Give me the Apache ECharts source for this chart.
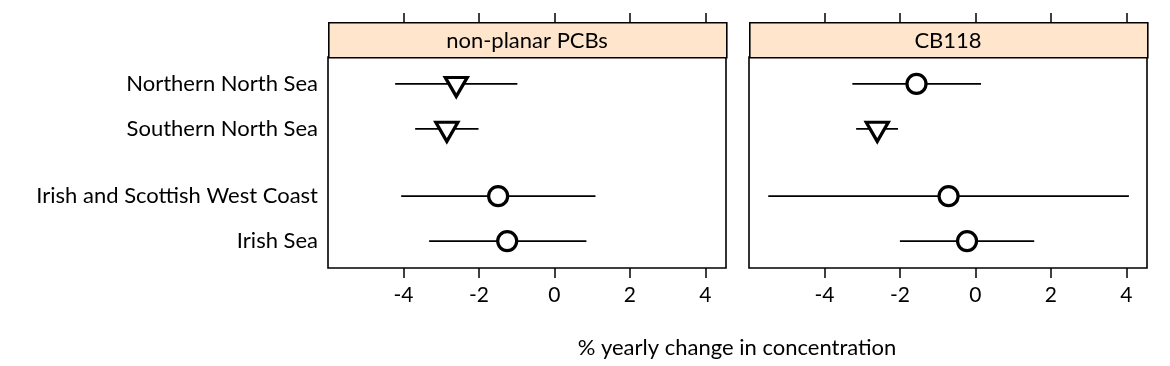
<!DOCTYPE html>
<html>
<head>
<meta charset="utf-8">
<script src="https://cdn.jsdelivr.net/npm/echarts@6/dist/echarts.min.js"></script>
<style>
  html, body { margin: 0; padding: 0; background: #fff; }
  #main { width: 1170px; height: 366px; }
</style>
</head>
<body>
<div id="main"></div>
<script>
// regions, top to bottom
var regions = ["Northern North Sea", "Southern North Sea", "Irish and Scottish West Coast", "Irish Sea"];
var rowPos = [3.5, 2.5, 1, 0];
var panels = ["non-planar PCBs", "CB118"];

// estimate, lower, upper (% per year)
var pcbEst = [-2.6, -2.85, -1.49, -1.25];
var pcbLow = [-4.22, -3.69, -4.06, -3.32];
var pcbHigh = [-0.98, -2.01, 1.09, 0.85];
var pcbSig = [true, true, false, false];

var cbEst = [-1.56, -2.6, -0.71, -0.22];
var cbLow = [-3.26, -3.16, -5.49, -2.0];
var cbHigh = [0.15, -2.05, 4.07, 1.56];
var cbSig = [false, true, false, false];

var xTicks = [-4, -2, 0, 2, 4];

var FONT = "Lato";
var triPath = "path://M0,0 L22,0 L11,20 Z";

function barData(low, high){
  return rowPos.map(function(p, i){ return [p, low[i], high[i]]; });
}
function pointData(est, sig){
  return rowPos.map(function(p, i){
    var item = { value: [est[i], p] };
    if(sig[i]){
      item.symbol = triPath;
      item.symbolSize = [22, 19];
      item.symbolOffset = [0, 3];
    }
    return item;
  });
}

function renderBar(params, api){
  var a = api.coord([api.value(1), api.value(0)]);
  var b = api.coord([api.value(2), api.value(0)]);
  return {
    type: 'line',
    shape: { x1: a[0], y1: a[1], x2: b[0], y2: b[1] },
    style: { stroke: '#000', lineWidth: 1.7 }
  };
}

var grids = [
  { left: 328, top: 57, width: 398, height: 211 },
  { left: 749, top: 57, width: 398, height: 211 }
];

var xAxes = [];
var yAxes = [];
grids.forEach(function(g, gi){
  g.show = true;
  g.borderColor = '#000';
  g.borderWidth = 1.6;
  g.backgroundColor = 'transparent';
  // bottom axis with labels
  xAxes.push({
    type: 'value', gridIndex: gi, min: -6, max: 4.55, position: 'bottom',
    axisLine: { show: false, onZero: false },
    axisTick: { show: true, length: 10, customValues: xTicks, lineStyle: { color: '#000', width: 1.5 } },
    axisLabel: { show: true, customValues: xTicks, margin: 17, color: '#000', fontSize: 21, fontFamily: FONT },
    splitLine: { show: false }
  });
  // top ticks above the strip
  xAxes.push({
    type: 'value', gridIndex: gi, min: -6, max: 4.55, position: 'top', offset: 35,
    axisLine: { show: false, onZero: false },
    axisTick: { show: true, length: 9, customValues: xTicks, lineStyle: { color: '#000', width: 1.5 } },
    axisLabel: { show: false },
    splitLine: { show: false }
  });
  yAxes.push({
    type: 'value', gridIndex: gi, min: -0.6, max: 4.1,
    axisLine: { show: false, onZero: false },
    axisTick: { show: false },
    splitLine: { show: false },
    axisLabel: {
      show: gi === 0, customValues: rowPos, margin: 10, color: '#000', fontSize: 22, fontFamily: FONT,
      formatter: function(v){
        var i = rowPos.indexOf(v);
        return i >= 0 ? regions[i] : '';
      }
    }
  });
});

var pointStyle = { color: '#fff', borderColor: '#000', borderWidth: 3.2, opacity: 1 };

var series = [
  { type: 'custom', xAxisIndex: 0, yAxisIndex: 0, renderItem: renderBar, encode: { x: [1, 2], y: 0 }, data: barData(pcbLow, pcbHigh), z: 2 },
  { type: 'scatter', xAxisIndex: 0, yAxisIndex: 0, symbol: 'circle', symbolSize: 19, itemStyle: pointStyle, data: pointData(pcbEst, pcbSig), z: 3 },
  { type: 'custom', xAxisIndex: 2, yAxisIndex: 1, renderItem: renderBar, encode: { x: [1, 2], y: 0 }, data: barData(cbLow, cbHigh), z: 2 },
  { type: 'scatter', xAxisIndex: 2, yAxisIndex: 1, symbol: 'circle', symbolSize: 19, itemStyle: pointStyle, data: pointData(cbEst, cbSig), z: 3 }
];

// strips with panel names
var graphics = [];
grids.forEach(function(g, gi){
  graphics.push({
    type: 'rect', left: g.left, top: 22,
    shape: { width: g.width, height: 35 },
    style: { fill: '#ffe5cc', stroke: '#000', lineWidth: 1.6 }, z: 10
  });
  graphics.push({
    type: 'text', x: g.left + g.width / 2, y: 41,
    style: { text: panels[gi], fill: '#000', font: '22px ' + FONT, textAlign: 'center', textVerticalAlign: 'middle' }, z: 11
  });
});
graphics.push({
  type: 'text', x: 737, y: 348,
  style: { text: '% yearly change in concentration', fill: '#000', font: '22px ' + FONT, textAlign: 'center', textVerticalAlign: 'middle' }
});

var myChart = echarts.init(document.getElementById('main'), null, { renderer: 'canvas' });
myChart.setOption({
  animation: false,
  backgroundColor: '#fff',
  grid: grids,
  xAxis: xAxes,
  yAxis: yAxes,
  series: series,
  graphic: graphics
});
</script>
</body>
</html>
